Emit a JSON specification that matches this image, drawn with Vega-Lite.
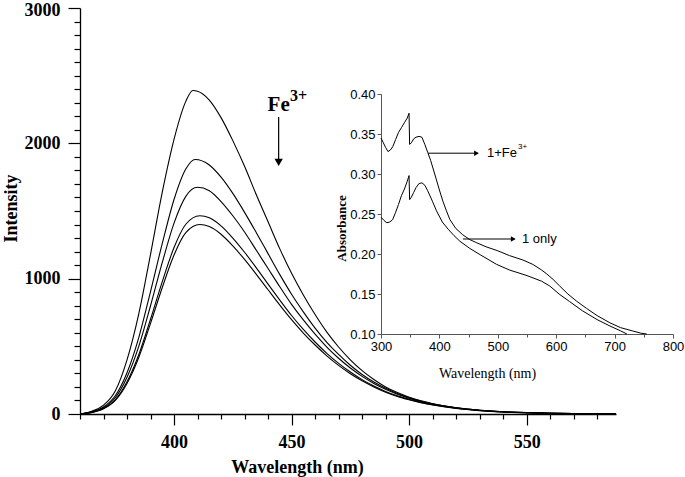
{
  "$schema": "https://vega.github.io/schema/vega-lite/v6.json",
  "width": 536,
  "height": 406,
  "autosize": "none",
  "padding": {"left": 80, "top": 8, "right": 69, "bottom": 63},
  "background": "white",
  "config": {
    "view": {"stroke": null},
    "axis": {"grid": false, "domainColor": "black", "tickColor": "black", "labelColor": "black", "titleColor": "black", "labelOverlap": false, "labelFlush": false, "labelBound": false}
  },
  "datasets": {
    "em": [
      {"s":"A","wl":360,"I":0},{"s":"A","wl":365,"I":20},{"s":"A","wl":370,"I":65},{"s":"A","wl":375,"I":170},{"s":"A","wl":380,"I":400},{"s":"A","wl":385,"I":740},{"s":"A","wl":390,"I":1180},{"s":"A","wl":395,"I":1640},{"s":"A","wl":400,"I":2030},{"s":"A","wl":405,"I":2310},{"s":"A","wl":408,"I":2390},{"s":"A","wl":410,"I":2385},{"s":"A","wl":415,"I":2320},{"s":"A","wl":420,"I":2190},{"s":"A","wl":425,"I":2020},{"s":"A","wl":430,"I":1830},{"s":"A","wl":435,"I":1620},{"s":"A","wl":440,"I":1420},{"s":"A","wl":445,"I":1220},{"s":"A","wl":450,"I":1040},{"s":"A","wl":455,"I":880},{"s":"A","wl":460,"I":735},{"s":"A","wl":465,"I":605},{"s":"A","wl":470,"I":495},{"s":"A","wl":475,"I":400},{"s":"A","wl":480,"I":320},{"s":"A","wl":485,"I":255},{"s":"A","wl":490,"I":200},{"s":"A","wl":495,"I":158},{"s":"A","wl":500,"I":124},{"s":"A","wl":505,"I":97},{"s":"A","wl":510,"I":76},{"s":"A","wl":520,"I":46},{"s":"A","wl":530,"I":28},{"s":"A","wl":540,"I":17},{"s":"A","wl":550,"I":10},{"s":"A","wl":560,"I":6},{"s":"A","wl":570,"I":3.5},{"s":"A","wl":580,"I":2},{"s":"A","wl":588,"I":1},
      {"s":"B","wl":360,"I":0},{"s":"B","wl":365,"I":16},{"s":"B","wl":370,"I":52},{"s":"B","wl":375,"I":135},{"s":"B","wl":380,"I":305},{"s":"B","wl":385,"I":565},{"s":"B","wl":390,"I":905},{"s":"B","wl":395,"I":1260},{"s":"B","wl":400,"I":1585},{"s":"B","wl":405,"I":1810},{"s":"B","wl":409,"I":1880},{"s":"B","wl":415,"I":1840},{"s":"B","wl":420,"I":1750},{"s":"B","wl":425,"I":1630},{"s":"B","wl":430,"I":1490},{"s":"B","wl":435,"I":1340},{"s":"B","wl":440,"I":1185},{"s":"B","wl":445,"I":1030},{"s":"B","wl":450,"I":885},{"s":"B","wl":455,"I":755},{"s":"B","wl":460,"I":635},{"s":"B","wl":465,"I":530},{"s":"B","wl":470,"I":440},{"s":"B","wl":475,"I":360},{"s":"B","wl":480,"I":292},{"s":"B","wl":485,"I":236},{"s":"B","wl":490,"I":190},{"s":"B","wl":495,"I":152},{"s":"B","wl":500,"I":121},{"s":"B","wl":505,"I":95},{"s":"B","wl":510,"I":75},{"s":"B","wl":520,"I":46},{"s":"B","wl":530,"I":28},{"s":"B","wl":540,"I":17},{"s":"B","wl":550,"I":10},{"s":"B","wl":560,"I":6},{"s":"B","wl":570,"I":3.5},{"s":"B","wl":580,"I":2},{"s":"B","wl":588,"I":1},
      {"s":"C","wl":360,"I":0},{"s":"C","wl":365,"I":14},{"s":"C","wl":370,"I":46},{"s":"C","wl":375,"I":120},{"s":"C","wl":380,"I":272},{"s":"C","wl":385,"I":500},{"s":"C","wl":390,"I":800},{"s":"C","wl":395,"I":1120},{"s":"C","wl":400,"I":1410},{"s":"C","wl":405,"I":1608},{"s":"C","wl":410,"I":1675},{"s":"C","wl":415,"I":1650},{"s":"C","wl":420,"I":1570},{"s":"C","wl":425,"I":1465},{"s":"C","wl":430,"I":1345},{"s":"C","wl":435,"I":1210},{"s":"C","wl":440,"I":1075},{"s":"C","wl":445,"I":940},{"s":"C","wl":450,"I":810},{"s":"C","wl":455,"I":695},{"s":"C","wl":460,"I":590},{"s":"C","wl":465,"I":495},{"s":"C","wl":470,"I":412},{"s":"C","wl":475,"I":340},{"s":"C","wl":480,"I":278},{"s":"C","wl":485,"I":226},{"s":"C","wl":490,"I":182},{"s":"C","wl":495,"I":146},{"s":"C","wl":500,"I":117},{"s":"C","wl":505,"I":92},{"s":"C","wl":510,"I":73},{"s":"C","wl":520,"I":45},{"s":"C","wl":530,"I":27},{"s":"C","wl":540,"I":16},{"s":"C","wl":550,"I":10},{"s":"C","wl":560,"I":6},{"s":"C","wl":570,"I":3.5},{"s":"C","wl":580,"I":2},{"s":"C","wl":588,"I":1},
      {"s":"D","wl":360,"I":0},{"s":"D","wl":365,"I":12},{"s":"D","wl":370,"I":40},{"s":"D","wl":375,"I":105},{"s":"D","wl":380,"I":238},{"s":"D","wl":385,"I":438},{"s":"D","wl":390,"I":700},{"s":"D","wl":395,"I":978},{"s":"D","wl":400,"I":1230},{"s":"D","wl":405,"I":1402},{"s":"D","wl":411,"I":1465},{"s":"D","wl":415,"I":1450},{"s":"D","wl":420,"I":1390},{"s":"D","wl":425,"I":1300},{"s":"D","wl":430,"I":1195},{"s":"D","wl":435,"I":1080},{"s":"D","wl":440,"I":960},{"s":"D","wl":445,"I":842},{"s":"D","wl":450,"I":728},{"s":"D","wl":455,"I":625},{"s":"D","wl":460,"I":532},{"s":"D","wl":465,"I":448},{"s":"D","wl":470,"I":374},{"s":"D","wl":475,"I":310},{"s":"D","wl":480,"I":254},{"s":"D","wl":485,"I":207},{"s":"D","wl":490,"I":167},{"s":"D","wl":495,"I":134},{"s":"D","wl":500,"I":108},{"s":"D","wl":505,"I":86},{"s":"D","wl":510,"I":68},{"s":"D","wl":520,"I":42},{"s":"D","wl":530,"I":26},{"s":"D","wl":540,"I":15},{"s":"D","wl":550,"I":9},{"s":"D","wl":560,"I":5},{"s":"D","wl":570,"I":3},{"s":"D","wl":580,"I":2},{"s":"D","wl":588,"I":1},
      {"s":"E","wl":360,"I":0},{"s":"E","wl":365,"I":11},{"s":"E","wl":370,"I":38},{"s":"E","wl":375,"I":100},{"s":"E","wl":380,"I":226},{"s":"E","wl":385,"I":418},{"s":"E","wl":390,"I":670},{"s":"E","wl":395,"I":935},{"s":"E","wl":400,"I":1175},{"s":"E","wl":405,"I":1340},{"s":"E","wl":411,"I":1400},{"s":"E","wl":415,"I":1385},{"s":"E","wl":420,"I":1328},{"s":"E","wl":425,"I":1242},{"s":"E","wl":430,"I":1142},{"s":"E","wl":435,"I":1032},{"s":"E","wl":440,"I":918},{"s":"E","wl":445,"I":805},{"s":"E","wl":450,"I":697},{"s":"E","wl":455,"I":598},{"s":"E","wl":460,"I":510},{"s":"E","wl":465,"I":430},{"s":"E","wl":470,"I":359},{"s":"E","wl":475,"I":298},{"s":"E","wl":480,"I":245},{"s":"E","wl":485,"I":200},{"s":"E","wl":490,"I":161},{"s":"E","wl":495,"I":130},{"s":"E","wl":500,"I":105},{"s":"E","wl":505,"I":83},{"s":"E","wl":510,"I":66},{"s":"E","wl":520,"I":41},{"s":"E","wl":530,"I":25},{"s":"E","wl":540,"I":15},{"s":"E","wl":550,"I":9},{"s":"E","wl":560,"I":5},{"s":"E","wl":570,"I":3},{"s":"E","wl":580,"I":2},{"s":"E","wl":588,"I":1}
    ],
    "abs": [
      {"s":"Fe","wl":300,"A":0.345},{"s":"Fe","wl":304,"A":0.339},{"s":"Fe","wl":308,"A":0.333},{"s":"Fe","wl":312,"A":0.328},{"s":"Fe","wl":316,"A":0.330},{"s":"Fe","wl":320,"A":0.334},{"s":"Fe","wl":325,"A":0.343},{"s":"Fe","wl":330,"A":0.352},{"s":"Fe","wl":335,"A":0.358},{"s":"Fe","wl":340,"A":0.364},{"s":"Fe","wl":345,"A":0.370},{"s":"Fe","wl":348,"A":0.376},{"s":"Fe","wl":349,"A":0.337},{"s":"Fe","wl":352,"A":0.339},{"s":"Fe","wl":356,"A":0.344},{"s":"Fe","wl":360,"A":0.346},{"s":"Fe","wl":365,"A":0.347},{"s":"Fe","wl":370,"A":0.346},{"s":"Fe","wl":375,"A":0.337},{"s":"Fe","wl":380,"A":0.327},{"s":"Fe","wl":385,"A":0.317},{"s":"Fe","wl":392,"A":0.300},{"s":"Fe","wl":400,"A":0.280},{"s":"Fe","wl":406,"A":0.266},{"s":"Fe","wl":412,"A":0.254},{"s":"Fe","wl":418,"A":0.243},{"s":"Fe","wl":428,"A":0.232},{"s":"Fe","wl":440,"A":0.224},{"s":"Fe","wl":452,"A":0.218},{"s":"Fe","wl":464,"A":0.214},{"s":"Fe","wl":480,"A":0.209},{"s":"Fe","wl":500,"A":0.204},{"s":"Fe","wl":520,"A":0.198},{"s":"Fe","wl":543,"A":0.1925},{"s":"Fe","wl":560,"A":0.187},{"s":"Fe","wl":575,"A":0.180},{"s":"Fe","wl":584,"A":0.175},{"s":"Fe","wl":595,"A":0.168},{"s":"Fe","wl":606,"A":0.160},{"s":"Fe","wl":620,"A":0.150},{"s":"Fe","wl":635,"A":0.141},{"s":"Fe","wl":652,"A":0.132},{"s":"Fe","wl":670,"A":0.123},{"s":"Fe","wl":692,"A":0.114},{"s":"Fe","wl":710,"A":0.108},{"s":"Fe","wl":730,"A":0.104},{"s":"Fe","wl":745,"A":0.101},{"s":"Fe","wl":755,"A":0.100},
      {"s":"only","wl":300,"A":0.246},{"s":"only","wl":305,"A":0.242},{"s":"only","wl":310,"A":0.239},{"s":"only","wl":315,"A":0.240},{"s":"only","wl":320,"A":0.243},{"s":"only","wl":325,"A":0.252},{"s":"only","wl":330,"A":0.262},{"s":"only","wl":335,"A":0.273},{"s":"only","wl":340,"A":0.281},{"s":"only","wl":345,"A":0.291},{"s":"only","wl":348,"A":0.298},{"s":"only","wl":349,"A":0.268},{"s":"only","wl":352,"A":0.271},{"s":"only","wl":356,"A":0.277},{"s":"only","wl":360,"A":0.283},{"s":"only","wl":365,"A":0.288},{"s":"only","wl":370,"A":0.289},{"s":"only","wl":375,"A":0.286},{"s":"only","wl":380,"A":0.279},{"s":"only","wl":388,"A":0.266},{"s":"only","wl":395,"A":0.254},{"s":"only","wl":405,"A":0.240},{"s":"only","wl":415,"A":0.231},{"s":"only","wl":425,"A":0.223},{"s":"only","wl":435,"A":0.216},{"s":"only","wl":452,"A":0.207},{"s":"only","wl":470,"A":0.199},{"s":"only","wl":498,"A":0.187},{"s":"only","wl":520,"A":0.180},{"s":"only","wl":550,"A":0.173},{"s":"only","wl":575,"A":0.166},{"s":"only","wl":589,"A":0.160},{"s":"only","wl":605,"A":0.150},{"s":"only","wl":623,"A":0.1405},{"s":"only","wl":645,"A":0.129},{"s":"only","wl":670,"A":0.118},{"s":"only","wl":692,"A":0.110},{"s":"only","wl":710,"A":0.104},{"s":"only","wl":721,"A":0.100}
    ]
  },
  "layer": [
    {
      "layer": [
        {
          "layer": [
            {
              "data": {"name": "em"},
              "mark": {"type": "line", "color": "black", "strokeWidth": 1.1, "interpolate": "monotone"},
              "encoding": {
                "x": {"field": "wl", "type": "quantitative", "scale": {"domain": [360, 588], "nice": false, "zero": false},
                  "axis": {
                    "values": [400, 450, 500, 550],
                    "tickSize": 11, "tickWidth": 1.2, "domainWidth": 1.3,
                    "labelFont": "Liberation Serif", "labelFontWeight": "bold", "labelFontSize": 18, "labelPadding": 8,
                    "title": "Wavelength (nm)", "titleFont": "Liberation Serif", "titleFontWeight": "bold", "titleFontSize": 18,
                    "titleX": 217, "titleY": 58, "titleBaseline": "alphabetic", "titleAnchor": "middle", "titleAlign": "center"
                  }},
                "y": {"field": "I", "type": "quantitative", "scale": {"domain": [0, 3000], "nice": false},
                  "axis": {
                    "values": [0, 1000, 2000, 3000], "format": "d",
                    "tickSize": 12, "tickWidth": 1.2, "domainWidth": 1.3,
                    "labelFont": "Liberation Serif", "labelFontWeight": "bold", "labelFontSize": 18, "labelPadding": 8,
                    "labelOffset": {"condition": {"test": "datum.value === 3000", "value": 2}, "value": 0},
                    "title": "Intensity", "titleFont": "Liberation Serif", "titleFontWeight": "bold", "titleFontSize": 18,
                    "titleX": -64, "titleY": 200, "titleBaseline": "alphabetic", "titleAngle": -90, "titleAlign": "center"
                  }},
                "detail": {"field": "s"}
              }
            },
            {
              "data": {"values": [{"wl": 439.8, "I": 2239, "t": "Fe"}, {"wl": 449.3, "I": 2310, "t": "3+"}]},
              "mark": {"type": "text", "font": "Liberation Serif", "fontWeight": "bold", "color": "black", "baseline": "alphabetic", "align": "left"},
              "encoding": {
                "x": {"field": "wl", "type": "quantitative"},
                "y": {"field": "I", "type": "quantitative"},
                "text": {"field": "t"},
                "size": {"condition": {"test": "datum.t === 'Fe'", "value": 21}, "value": 16}
              }
            },
            {
              "data": {"values": [{"wl": 444.5, "I": 2195, "I2": 1850}]},
              "mark": {"type": "rule", "color": "black", "strokeWidth": 1.2},
              "encoding": {
                "x": {"field": "wl", "type": "quantitative"},
                "y": {"field": "I", "type": "quantitative"},
                "y2": {"field": "I2"}
              }
            },
            {
              "data": {"values": [{"wl": 444.5, "I": 1860}]},
              "mark": {"type": "point", "shape": "triangle-down", "filled": true, "color": "black", "size": 70, "opacity": 1},
              "encoding": {
                "x": {"field": "wl", "type": "quantitative"},
                "y": {"field": "I", "type": "quantitative"}
              }
            }
          ]
        },
        {
          "data": {"name": "em"},
          "mark": {"type": "point", "opacity": 0, "size": 1},
          "encoding": {
            "x": {"field": "wl", "type": "quantitative", "scale": {"domain": [360, 588], "nice": false, "zero": false},
              "axis": {"orient": "bottom", "values": [360,370,380,390,410,420,430,440,460,470,480,490,510,520,530,540,560,570,580],
                "labels": false, "domain": false, "tickSize": 5, "tickWidth": 1.2, "title": null}},
            "y": {"field": "I", "type": "quantitative", "scale": {"domain": [0, 3000], "nice": false},
              "axis": {"orient": "left", "values": [100,200,300,400,500,600,700,800,900,1100,1200,1300,1400,1500,1600,1700,1800,1900,2100,2200,2300,2400,2500,2600,2700,2800,2900],
                "labels": false, "domain": false, "tickSize": 6, "tickWidth": 1.2, "title": null}}
          }
        }
      ],
      "resolve": {"scale": {"x": "independent", "y": "independent"}}
    },
    {
      "layer": [
        {
          "data": {"name": "abs"},
          "mark": {"type": "line", "color": "black", "strokeWidth": 1, "interpolate": "linear"},
          "encoding": {
            "x": {"field": "wl", "type": "quantitative", "scale": {"domain": [300, 800], "range": [301, 593], "nice": false, "zero": false},
              "axis": {
                "orient": "bottom", "offset": -80,
                "values": [300,350,400,450,500,550,600,650,700,750,800],
                "labelExpr": "datum.value % 100 === 0 ? format(datum.value, 'd') : ''",
                "tickSize": {"condition": {"test": "datum.value % 100 === 0", "value": 4}, "value": 3},
                "tickWidth": 1, "domainWidth": 1, "domainColor": "#555", "tickColor": "#555",
                "labelFont": "Liberation Sans",
                "labelFontSize": {"condition": {"test": "datum.value % 100 === 0", "value": 13}, "value": 0},
                "labelPadding": 2,
                "title": "Wavelength (nm)", "titleFont": "Liberation Serif", "titleFontWeight": "normal", "titleFontSize": 14,
                "titleX": 407, "titleY": 43, "titleBaseline": "alphabetic", "titleAlign": "center"
              }},
            "y": {"field": "A", "type": "quantitative", "scale": {"domain": [0.1, 0.4], "range": [326, 86], "nice": false, "zero": false},
              "axis": {
                "orient": "left", "offset": -301,
                "values": [0.1,0.125,0.15,0.175,0.2,0.225,0.25,0.275,0.3,0.325,0.35,0.375,0.4],
                "labelExpr": "round(datum.value*1000) % 50 === 0 ? format(datum.value, '.2f') : ''",
                "tickSize": {"condition": {"test": "round(datum.value*1000) % 50 === 0", "value": 4}, "value": 3},
                "tickWidth": 1, "domainWidth": 1, "domainColor": "#555", "tickColor": "#555",
                "labelFont": "Liberation Sans",
                "labelFontSize": {"condition": {"test": "round(datum.value*1000) % 50 === 0", "value": 13}, "value": 0},
                "labelPadding": 2,
                "title": "Absorbance", "titleFont": "Liberation Serif", "titleFontWeight": "bold", "titleFontSize": 13,
                "titleX": -36, "titleY": 220, "titleBaseline": "alphabetic", "titleAngle": -90, "titleAlign": "center"
              }},
            "detail": {"field": "s"}
          }
        },
        {
          "data": {"values": [{"wl": 380.5, "wl2": 466, "A": 0.326}, {"wl": 440.4, "wl2": 529, "A": 0.21875}]},
          "mark": {"type": "rule", "color": "black", "strokeWidth": 1},
          "encoding": {
            "x": {"field": "wl", "type": "quantitative"},
            "x2": {"field": "wl2"},
            "y": {"field": "A", "type": "quantitative"}
          }
        },
        {
          "data": {"values": [{"wl": 463.5, "A": 0.326}, {"wl": 526.5, "A": 0.21875}]},
          "mark": {"type": "point", "shape": "triangle-right", "filled": true, "color": "black", "size": 30, "opacity": 1},
          "encoding": {
            "x": {"field": "wl", "type": "quantitative"},
            "y": {"field": "A", "type": "quantitative"}
          }
        },
        {
          "data": {"values": [{"wl": 481.5, "A": 0.326, "t": "1+Fe"}, {"wl": 541.4, "A": 0.21875, "t": "1 only"}, {"wl": 534.6, "A": 0.334, "t": "3+"}]},
          "mark": {"type": "text", "font": "Liberation Sans", "align": "left", "baseline": "middle", "color": "black"},
          "encoding": {
            "x": {"field": "wl", "type": "quantitative"},
            "y": {"field": "A", "type": "quantitative"},
            "text": {"field": "t"},
            "size": {"condition": {"test": "datum.t === '3+'", "value": 8}, "value": 13}
          }
        }
      ]
    }
  ],
  "resolve": {"scale": {"x": "independent", "y": "independent"}}
}
